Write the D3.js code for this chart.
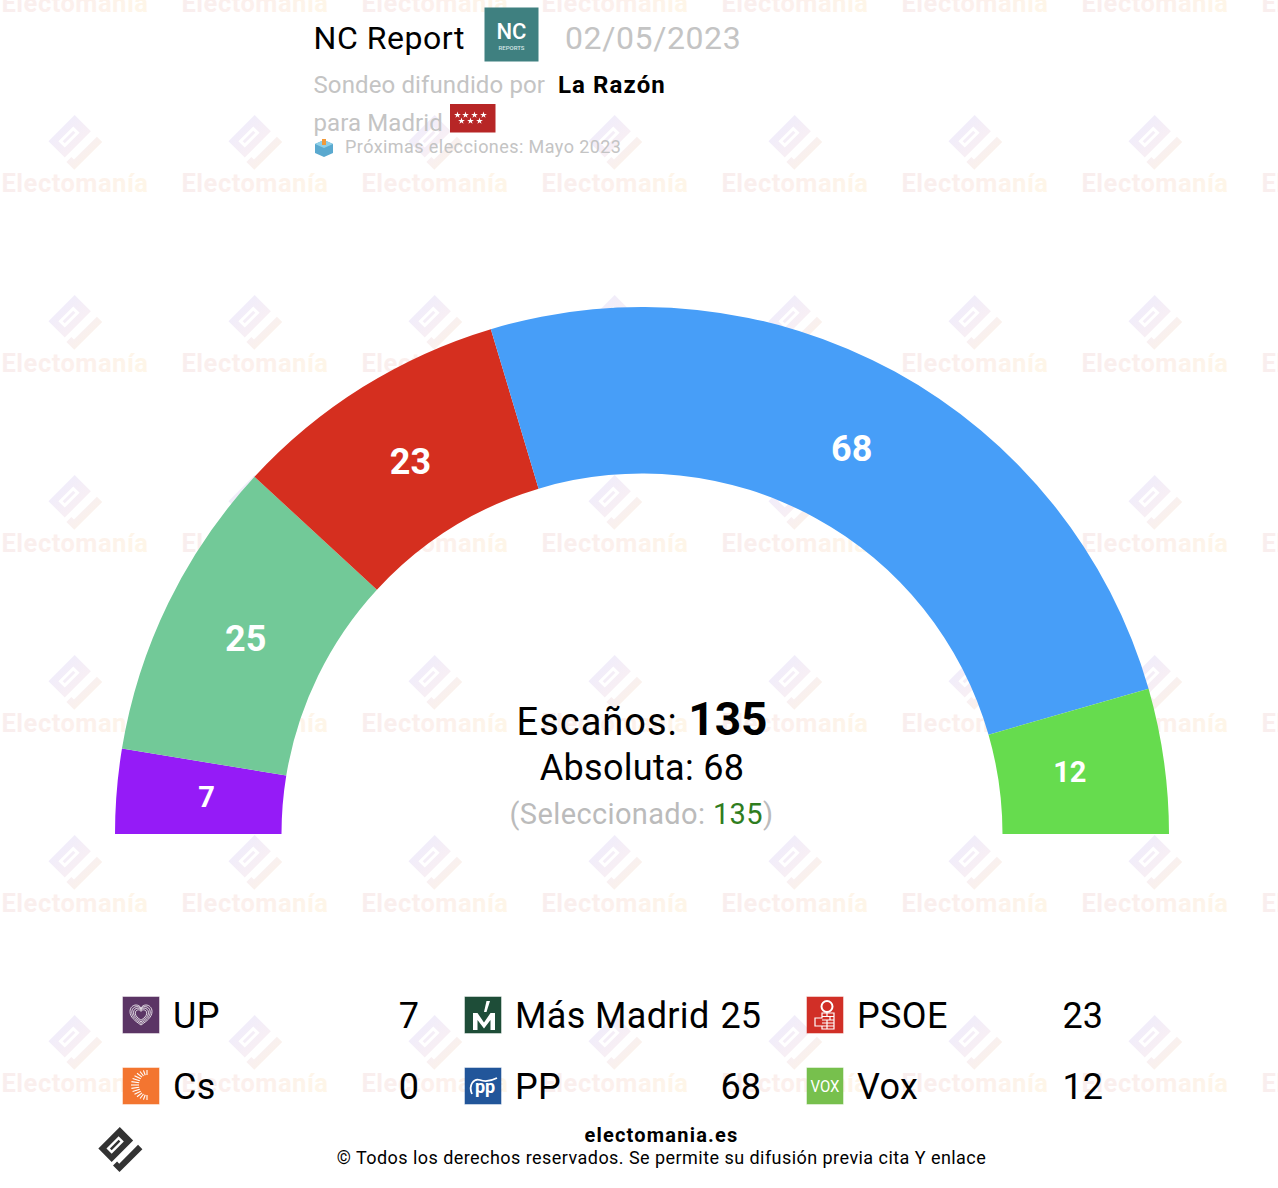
<!DOCTYPE html>
<html><head><meta charset="utf-8">
<script src="https://cdn.jsdelivr.net/npm/d3@7"></script>
<style>html,body{margin:0;padding:0;background:#fff}svg{display:block;font-family:Roboto,sans-serif}</style>
</head><body><svg id="c" width="1278" height="1188"></svg>
<script>
const parties=["UP","Cs","Más Madrid","PSOE","PP","Vox"];
const seats=[7,0,25,23,68,12];
const colors=["#951bf7","#f37e2b","#72c998","#d52f1f","#479ef8","#66dc4e"];
const iconColors=["#5b3565","#f37530","#1e4d38","#d12f27","#22569a","#77c04d"];
const legendOrder=["UP","Más Madrid","PSOE","Cs","PP","Vox"];

const svg=d3.select("#c");
const defs=svg.append("defs");
const g1=defs.append("linearGradient").attr("id","wl").attr("gradientUnits","userSpaceOnUse").attr("x1",-20).attr("y1",0).attr("x2",19).attr("y2",0);
g1.append("stop").attr("offset",0).attr("stop-color","#f1edfa");
g1.append("stop").attr("offset",.55).attr("stop-color","#f7eff5");
g1.append("stop").attr("offset",1).attr("stop-color","#faf1ec");
const g2=defs.append("linearGradient").attr("id","wt");
g2.append("stop").attr("offset",0).attr("stop-color","#f9eeee");
g2.append("stop").attr("offset",.55).attr("stop-color","#fcf0ec");
g2.append("stop").attr("offset",1).attr("stop-color","#fef6e8");

function logo(sel,fill){
  sel.append("path").attr("fill-rule","evenodd").attr("fill",fill)
    .attr("d","M-19.5,-20H3.5V17H-19.5ZM-12.5,-11V10H-3.5V-11ZM-9.5,-8H-6.5V7H-9.5Z");
  sel.append("path").attr("fill",fill)
    .attr("d","M11.5,-20.5H19V19H7.8V12H11.5Z");
}
const colsW=d3.range(8).map(i=>75+180*i);
const rowsW=d3.range(7).map(i=>-37+180*i);
rowsW.forEach(y=>colsW.forEach(x=>{
  const g=svg.append("g").attr("transform",`translate(${x},${y})`);
  logo(g.append("g").attr("transform","translate(-.7,0) rotate(45)"),"url(#wl)");
  g.append("text").attr("x",0).attr("y",49).attr("text-anchor","middle").attr("font-size",25.5).attr("letter-spacing",.5).attr("font-weight",700).attr("fill","url(#wt)").text("Electomanía");
}));

// hemicycle
const cx=642,cy=834,R=527,r=360.5;
const labelSize=v=>v<20&&v!==0&&v<=12?29:36;
const labelRadius=p=>({"Más Madrid":441,"Vox":432}[p]||437);
const chart=svg.append("g").attr("transform",`translate(${cx},${cy})`);
const pie=d3.pie().sort(null).value(d=>d.v).startAngle(-Math.PI/2).endAngle(Math.PI/2);
const rows=parties.map((p,i)=>({p,v:seats[i],c:colors[i]}));
const arc=d3.arc().innerRadius(r).outerRadius(R);
const arcs=pie(rows);
chart.selectAll("path").data(arcs).join("path").attr("d",arc).attr("fill",d=>d.data.c);
chart.selectAll("text").data(arcs.filter(d=>d.data.v>0)).join("text")
  .attr("transform",d=>{const lr=labelRadius(d.data.p);const c=d3.arc().innerRadius(lr).outerRadius(lr).centroid(d);return `translate(${c[0]},${c[1]})`})
  .attr("text-anchor","middle").attr("dy",".29em").attr("font-weight",700).attr("fill","#fff")
  .attr("font-size",d=>labelSize(d.data.v)).text(d=>d.data.v);

// centre text
const t1=svg.append("text").attr("x",642).attr("y",735).attr("text-anchor","middle").attr("font-size",38);
t1.append("tspan").attr("letter-spacing",1).text("Escaños: ");
t1.append("tspan").attr("font-weight",700).attr("font-size",46).text(d3.sum(seats));
svg.append("text").attr("x",642).attr("y",780).attr("text-anchor","middle").attr("font-size",36).attr("letter-spacing",.3).text("Absoluta: "+(Math.floor(d3.sum(seats)/2)+1));
const t3=svg.append("text").attr("x",641.5).attr("y",824).attr("text-anchor","middle").attr("font-size",29).attr("letter-spacing",.37).attr("fill","#bbb");
t3.append("tspan").text("(Seleccionado: ");
t3.append("tspan").attr("fill","#2f7d1e").text(d3.sum(seats));
t3.append("tspan").text(")");

// header
const T=(x,y,s,c,txt,w)=>svg.append("text").attr("x",x).attr("y",y).attr("font-size",s).attr("fill",c).attr("font-weight",w||400).text(txt);
T(313.5,49,32,"#000","NC Report").attr("letter-spacing",.55);
T(565,49,32,"#c4c4c4","02/05/2023").attr("letter-spacing",.6);
T(313.5,92.5,24,"#c4c4c4","Sondeo difundido por").attr("letter-spacing",.12);
T(558,92.5,24,"#000","La Razón",700).attr("letter-spacing",1.1);
T(313.5,130.5,24,"#c4c4c4","para Madrid").attr("letter-spacing",.1);
T(345,153,18,"#c4c4c4","Próximas elecciones: Mayo 2023").attr("letter-spacing",.43);

svg.append("rect").attr("x",484.5).attr("y",7.5).attr("width",54).attr("height",54).attr("fill","#3f8080");
svg.append("text").attr("x",511.5).attr("y",39).attr("text-anchor","middle").attr("fill","#fff").attr("font-size",22).attr("font-weight",500).text("NC");
svg.append("text").attr("x",511.5).attr("y",50).attr("text-anchor","middle").attr("fill","#d5e6e6").attr("font-size",6).attr("font-weight",500).text("REPORTS");
svg.append("rect").attr("x",450).attr("y",104).attr("width",45.5).attr("height",28.5).attr("fill","#b72626");
const star=d3.symbol().type(d3.symbolStar).size(14);
[[458,115],[466,115],[475,115],[484,115],[462,121],[471,121],[480,121]].forEach(p=>svg.append("path").attr("d",star).attr("transform",`translate(${p[0]-.5},${p[1]})`).attr("fill","#fff"));
// ballot box
svg.append("path").attr("d","M315,144L324,140L333,144V153L324,157L315,153Z").attr("fill","#5aa9cf");
svg.append("path").attr("d","M315,144L324,148L333,144L324,140Z").attr("fill","#8fd0e8");
svg.append("rect").attr("x",322).attr("y",139).attr("width",4).attr("height",6).attr("fill","#f29a3a");

// legend
const lx=[123,465,807],ly=[997,1068];
legendOrder.forEach((name,k)=>{
  const i=parties.indexOf(name),col=k%3,row=Math.floor(k/3);
  const x=lx[col],y=ly[row];
  const g=svg.append("g").attr("transform",`translate(${x},${y})`);
  g.append("rect").attr("width",36).attr("height",36).attr("fill",iconColors[i]).attr("stroke",iconColors[i]).attr("stroke-opacity",.55);
  icon(g,name);
  svg.append("text").attr("x",x+50).attr("y",y+31).attr("font-size",36).attr("letter-spacing",.35).text(name);
  svg.append("text").attr("x",x+296).attr("y",y+31).attr("font-size",36).attr("text-anchor","end").text(seats[i]);
});
function icon(g,name){
  const w="#fff";
  if(name==="UP"){
    const h="M18,28C12,24 7,20 7,14.5C7,10.5 10,8 13,8C15,8 17,9 18,11C19,9 21,8 23,8C26,8 29,10.5 29,14.5C29,20 24,24 18,28Z";
    [1,.84,.68,.52].forEach(s=>g.append("path").attr("d",h).attr("fill","none").attr("stroke",w).attr("stroke-opacity",.9).attr("stroke-width",.9/s)
      .attr("transform",`translate(18,18) scale(${s}) translate(-18,-18)`));
  } else if(name==="Más Madrid"){
    g.append("path").attr("fill",w).attr("d","M8,33V16H12.5L19,25.5L25.5,16H30V33H25.5V23L19,31.5L12.5,23V33Z");
    g.append("path").attr("fill",w).attr("d","M19,15L21.5,4H25L21.5,15Z");
  } else if(name==="PSOE"){
    g.append("circle").attr("cx",20).attr("cy",9.5).attr("r",5.5).attr("fill","none").attr("stroke",w).attr("stroke-width",2);
    g.append("path").attr("fill","none").attr("stroke",w).attr("stroke-width",1.2).attr("d","M15,16H27V32H15V29H8V21H15ZM15,19.5H27M15,23H27M15,26H27M15,29H27M20,16V19.5M23,19.5V23M20,23V32");
  } else if(name==="Cs"){
    d3.range(15).forEach(j=>{
      const a=Math.PI/2+Math.PI*j/14;
      const rx=Math.cos(a),ry=Math.sin(a);
      g.append("line").attr("x1",24+rx*8).attr("y1",17+ry*10).attr("x2",24+rx*16).attr("y2",17+ry*15).attr("stroke",w).attr("stroke-width",1.1);
    });
  } else if(name==="PP"){
    g.append("path").attr("fill","none").attr("stroke",w).attr("stroke-width",1.8).attr("d","M7,26C3,17 9,10 15,12C20,14 26,13 32,10");
    g.append("text").attr("x",20).attr("y",25).attr("text-anchor","middle").attr("fill",w).attr("font-size",18).attr("font-weight",700).text("pp");
  } else if(name==="Vox"){
    g.append("text").attr("x",18).attr("y",24).attr("text-anchor","middle").attr("fill",w).attr("font-size",17).attr("textLength",29).attr("lengthAdjust","spacingAndGlyphs").text("VOX");
  }
}

// footer
logo(svg.append("g").attr("transform","translate(119.5,1150) rotate(45) scale(.82)"),"#333");
svg.append("text").attr("x",661.5).attr("y",1142).attr("text-anchor","middle").attr("font-size",20).attr("letter-spacing",1.2).attr("font-weight",700).text("electomania.es");
svg.append("text").attr("x",661.5).attr("y",1164).attr("text-anchor","middle").attr("font-size",18).attr("letter-spacing",.45).text("© Todos los derechos reservados. Se permite su difusión previa cita Y enlace");
</script></body></html>
